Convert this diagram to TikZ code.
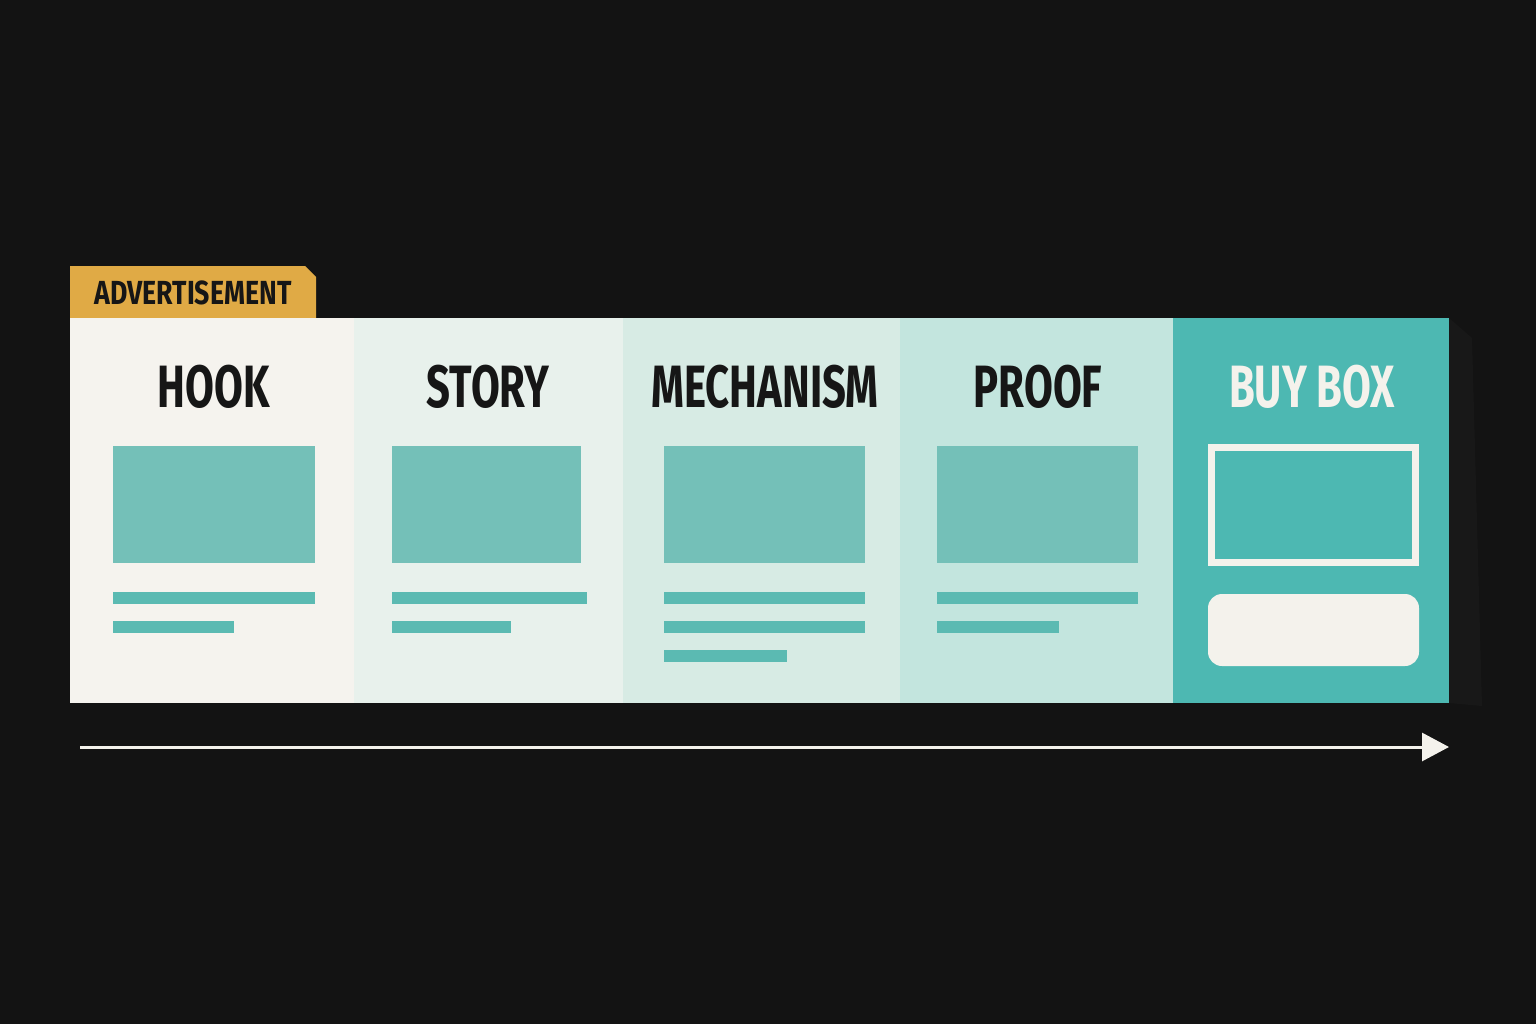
\documentclass[tikz,border=0pt]{standalone}
\usepackage{fontspec}
\setmainfont{Fira Sans}[FakeStretch=0.70]
\newfontfamily\tagfont{Fira Sans}[FakeStretch=0.80]
\usetikzlibrary{arrows.meta}

\definecolor{bgdark}{HTML}{131313}
\definecolor{shadowdark}{HTML}{181818}
\definecolor{tagyellow}{HTML}{E0AA45}
\definecolor{inkdark}{HTML}{161616}
\definecolor{cream}{HTML}{F4F2EC}
\definecolor{panelA}{HTML}{F5F3EE}
\definecolor{panelB}{HTML}{E8F1EC}
\definecolor{panelC}{HTML}{D7EBE4}
\definecolor{panelD}{HTML}{C3E5DE}
\definecolor{panelE}{HTML}{4DB8B2}
\definecolor{imgteal}{HTML}{74C0B8}
\definecolor{barteal}{HTML}{5BBAB2}

\begin{document}
\begin{tikzpicture}[x=0.02cm, y=-0.02cm,
  title/.style={font=\fontsize{34}{34}\selectfont\bfseries, text=inkdark, inner sep=0pt},
  imgbox/.style={fill=imgteal},
  textbar/.style={fill=barteal}]
\useasboundingbox[fill=bgdark] (0, 0) rectangle (1536, 1024);

% shadow and tag
\fill[color = shadowdark] (1449, 318) -- (1472, 338) -- (1482, 706) -- (1449, 703) -- cycle;
\fill[color = tagyellow] (70, 318) -- (70, 266) -- (305, 266) -- (316, 277) -- (316, 318) -- cycle;
\node (tag) at (193, 293) [font=\tagfont\fontsize{19}{19}\selectfont\bfseries, text=inkdark, inner sep=0pt] {ADVERTISEMENT};

% panels
\fill[color = panelA] (70, 318) rectangle (354, 703);
\fill[color = panelB] (354, 318) rectangle (623, 703);
\fill[color = panelC] (623, 318) rectangle (900, 703);
\fill[color = panelD] (900, 318) rectangle (1173, 703);
\fill[color = panelE] (1173, 318) rectangle (1449, 703);

\node (hook) at (214, 387) [title] {HOOK};
\node (story) at (488, 387) [title] {STORY};
\node (mechanism) at (765, 387) [title] {MECHANISM};
\node (proof) at (1038, 387) [title] {PROOF};
\node (buybox) at (1312, 387) [title, text=cream] {BUY BOX};

% content blocks
\fill[imgbox] (113, 446) rectangle (315, 563);
\fill[textbar] (113, 592) rectangle (315, 604);
\fill[textbar] (113, 621) rectangle (234, 633);

\fill[imgbox] (392, 446) rectangle (581, 563);
\fill[textbar] (392, 592) rectangle (587, 604);
\fill[textbar] (392, 621) rectangle (511, 633);

\fill[imgbox] (664, 446) rectangle (865, 563);
\fill[textbar] (664, 592) rectangle (865, 604);
\fill[textbar] (664, 621) rectangle (865, 633);
\fill[textbar] (664, 650) rectangle (787, 662);

\fill[imgbox] (937, 446) rectangle (1138, 563);
\fill[textbar] (937, 592) rectangle (1138, 604);
\fill[textbar] (937, 621) rectangle (1059, 633);

\draw[line width = 0.14cm, color = cream] (1211.5, 447.5) rectangle (1415.5, 562.5);
\fill[color = cream, rounded corners = 0.28cm] (1208, 594) rectangle (1419, 666);

% timeline arrow
\coordinate (start) at (80, 747);
\coordinate (finish) at (1449, 747);
\draw[line width = 0.06cm, color = cream, -{Triangle[length = 0.54cm, width = 0.56cm]}] (start) -- (finish);
\end{tikzpicture}
\end{document}
